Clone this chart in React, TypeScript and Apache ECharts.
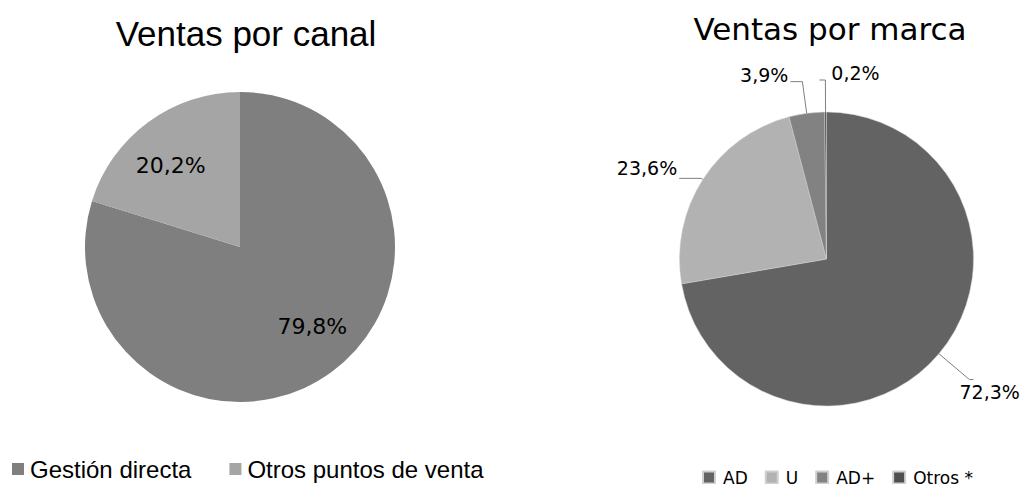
import React, { useEffect, useRef } from "react";
import * as echarts from "echarts";

const canalTitle = "Ventas por canal";
const canalNames = ["Gestión directa", "Otros puntos de venta"];
const canalValues = [79.8, 20.2];
const canalColors = ["#7f7f7f", "#a5a5a5"];

const marcaTitle = "Ventas por marca";
const marcaNames = ["AD", "U", "AD+", "Otros *"];
const marcaValues = [72.3, 23.6, 3.9, 0.2];
const marcaColors = ["#636363", "#b2b2b2", "#828282", "#4f4f4f"];
const marcaLabelLines = [
  { length: 40, length2: 4 },
  { length: 2, length2: 22 },
  { length: 32, length2: 12 },
  { length: 32, length2: 6 },
];

const fmt = (v: number) => v.toFixed(1).replace(".", ",") + "%";

export default function App() {
  const ref = useRef<HTMLDivElement>(null);
  useEffect(() => {
    document.body.style.margin = "0";
    const chart = echarts.init(ref.current!, null, { renderer: "svg" });
    const option: any = {
      animation: false,
      backgroundColor: "#ffffff",
      title: [
        {
          text: canalTitle,
          left: 241,
          top: 11,
          textAlign: "center",
          textStyle: { fontFamily: "Liberation Sans", fontSize: 35, fontWeight: "normal", color: "#000" },
        },
        {
          text: marcaTitle,
          left: 825,
          top: 8,
          textAlign: "center",
          textStyle: { fontFamily: "DejaVu Sans", fontSize: 31, fontWeight: "normal", color: "#000" },
        },
      ],
      legend: [
        {
          data: canalNames,
          left: 12,
          top: 457,
          padding: 0,
          icon: "rect",
          itemWidth: 12,
          itemHeight: 12,
          itemGap: 38,
          textStyle: { fontFamily: "Liberation Sans", fontSize: 24, color: "#000", padding: [0, 0, 0, 1] },
        },
        {
          data: marcaNames,
          left: 702,
          top: 469,
          padding: 0,
          icon: "rect",
          itemWidth: 12,
          itemHeight: 12,
          itemGap: 17,
          textStyle: { fontFamily: "DejaVu Sans", fontSize: 17, color: "#000", padding: [0, 0, 0, 3] },
        },
      ],
      series: [
        {
          type: "pie",
          center: [240, 247],
          radius: 155,
          startAngle: 90,
          clockwise: true,
          silent: true,
          label: { show: false },
          labelLine: { show: false },
          itemStyle: { borderWidth: 0 },
          data: canalNames.map((n, i) => ({ name: n, value: canalValues[i], itemStyle: { color: canalColors[i] } })),
        },
        {
          type: "pie",
          center: [826.5, 259],
          radius: 147,
          startAngle: 90,
          clockwise: true,
          silent: true,
          avoidLabelOverlap: false,
          itemStyle: { borderColor: "#d0d0d0", borderWidth: 0.5 },
          label: {
            show: true,
            position: "outside",
            formatter: (p: any) => fmt(p.value),
            fontFamily: "DejaVu Sans",
            fontSize: 19,
            color: "#000",
            distanceToLabelLine: 2,
          },
          labelLine: { show: true, lineStyle: { color: "#7f7f7f", width: 1 } },
          labelLayout: (params: any) => {
            if (params.dataIndex === 0) return { dx: -16, dy: 12 };
            if (params.dataIndex === 1) return { dy: -10 };
            if (params.dataIndex === 3) return { dx: params.labelRect.width + 14, dy: -7 };
            return { dy: -7 };
          },
          data: marcaNames.map((n, i) => ({
            name: n,
            value: marcaValues[i],
            itemStyle: { color: marcaColors[i] },
            labelLine: marcaLabelLines[i],
          })),
        },
        {
          type: "pie",
          center: [240, 247],
          radius: [56, 155],
          startAngle: 90,
          clockwise: true,
          silent: true,
          itemStyle: { color: "rgba(0,0,0,0)", borderWidth: 0 },
          label: {
            show: true,
            position: "inside",
            formatter: (p: any) => fmt(p.value),
            fontFamily: "DejaVu Sans",
            fontSize: 22,
            color: "#000",
          },
          labelLine: { show: false },
          labelLayout: (params: any) =>
            params.dataIndex === 0 ? { dx: 8, dy: -8 } : { dx: -5, dy: 6 },
          data: canalNames.map((n, i) => ({ name: n, value: canalValues[i] })),
        },
      ],
    };
    chart.setOption(option);
    return () => chart.dispose();
  }, []);
  return <div ref={ref} style={{ width: 1026, height: 484 }} />;
}
